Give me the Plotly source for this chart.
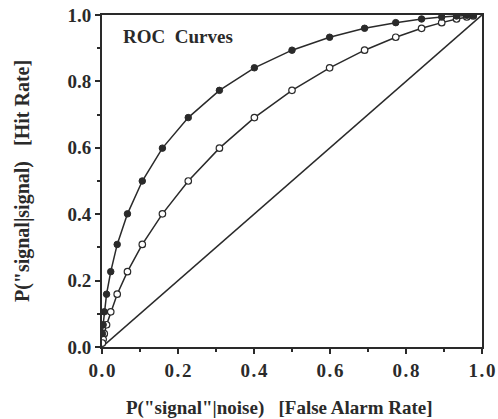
import plotly.graph_objects as go

# False alarm rates (shared by both curves)
false_alarm = [0.977, 0.960, 0.933, 0.894, 0.841, 0.773, 0.691, 0.599, 0.500, 0.401,
               0.309, 0.227, 0.159, 0.106, 0.067, 0.040, 0.023, 0.012, 0.006, 0.003, 0.001]
# Hit rates, stronger signal (filled markers)
hit_strong = [0.999, 0.999, 0.997, 0.994, 0.988, 0.977, 0.960, 0.933, 0.894, 0.841,
              0.773, 0.691, 0.599, 0.500, 0.401, 0.309, 0.227, 0.159, 0.106, 0.067, 0.040]
# Hit rates, weaker signal (open markers)
hit_weak = [0.997, 0.994, 0.988, 0.977, 0.960, 0.933, 0.894, 0.841, 0.773, 0.691,
            0.599, 0.500, 0.401, 0.309, 0.227, 0.159, 0.106, 0.067, 0.040, 0.023, 0.012]
# Chance diagonal
diag_x = [0.0, 1.0]
diag_y = [0.0, 1.0]

tick_vals = [0.0, 0.2, 0.4, 0.6, 0.8, 1.0]
y_tick_text = ["<b>0.0</b>", "<b>0.2</b>", "<b>0.4</b>", "<b>0.6</b>", "<b>0.8</b>", "<b>1.0</b>"]
x_tick_text = ["<b>0\u200a.\u200a0</b>", "<b>0\u200a.\u200a2</b>", "<b>0\u200a.\u200a4</b>",
               "<b>0\u200a.\u200a6</b>", "<b>0\u200a.\u200a8</b>", "<b>1\u200a.\u200a0</b>"]

ink = "#2a2a2a"
font_family = "Liberation Serif, Times New Roman, serif"

fig = go.Figure()
fig.add_trace(go.Scatter(x=diag_x, y=diag_y, mode="lines",
                         line=dict(color=ink, width=1.6), hoverinfo="skip"))
fig.add_trace(go.Scatter(x=false_alarm, y=hit_weak, mode="lines+markers",
                         line=dict(color=ink, width=1.5),
                         marker=dict(symbol="circle", size=6.5, color="white",
                                     line=dict(color=ink, width=1.2))))
fig.add_trace(go.Scatter(x=false_alarm, y=hit_strong, mode="lines+markers",
                         line=dict(color=ink, width=1.5),
                         marker=dict(symbol="circle", size=6.5, color=ink,
                                     line=dict(color=ink, width=1))))

fig.add_annotation(x=0.05, y=0.935, xref="x", yref="y", text="<b>ROC  Curves</b>",
                   showarrow=False, xanchor="left", yanchor="middle",
                   font=dict(family=font_family, size=19, color=ink))

# x-axis title (placed slightly left of centre, as in the original)
fig.add_annotation(x=0.466, y=-0.184, xref="paper", yref="paper",
                   text="<b>P(\"signal\"|noise)   [False Alarm Rate]</b>",
                   showarrow=False, xanchor="center", yanchor="middle",
                   font=dict(family=font_family, size=19, color=ink))

fig.update_layout(
    width=498, height=419,
    margin=dict(l=102, r=16, t=15, b=72, autoexpand=False),
    paper_bgcolor="white", plot_bgcolor="white",
    showlegend=False,
    font=dict(family=font_family, color=ink),
    xaxis=dict(range=[0, 1], tickvals=tick_vals, ticktext=x_tick_text, automargin=False,
               ticks="outside", ticklen=5, tickwidth=1.5, tickcolor=ink,
               showline=True, linecolor=ink, linewidth=2, mirror=True,
               showgrid=False, zeroline=False,
               tickfont=dict(family=font_family, size=19, color=ink),
               minor=dict(ticks="outside", ticklen=3, tickcolor=ink, dtick=0.1, showgrid=False)),
    yaxis=dict(range=[0, 1], tickvals=tick_vals, ticktext=y_tick_text, automargin=False,
               ticks="outside", ticklen=5, tickwidth=1.5, tickcolor=ink,
               showline=True, linecolor=ink, linewidth=2, mirror=True,
               showgrid=False, zeroline=False,
               tickfont=dict(family=font_family, size=19, color=ink),
               minor=dict(ticks="outside", ticklen=3, tickcolor=ink, dtick=0.1, showgrid=False),
               title=dict(text="<b>P(\"signal|signal)   [Hit Rate]</b>",
                          font=dict(family=font_family, size=20, color=ink), standoff=32)),
)

fig.write_html("out.html", config={"displayModeBar": False},
               post_script="document.body.style.margin='0';")
